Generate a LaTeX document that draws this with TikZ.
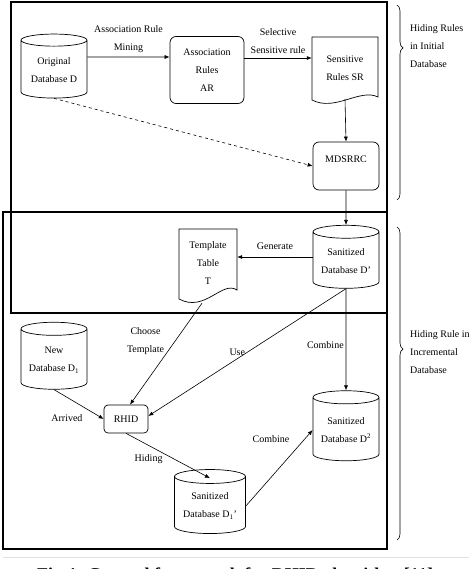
\documentclass[tikz,border=0pt]{standalone}
\usepackage{fontspec}
\setmainfont{Liberation Serif}
\usepackage{tikz}
\usetikzlibrary{arrows.meta,shapes.geometric,decorations.pathreplacing}
\newcommand{\diafont}{\fontsize{10}{18}\selectfont}
\tikzset{
  db/.style={cylinder, shape border rotate=90, aspect=0.25, draw, line width=0.7pt, align=center, minimum width=66pt, minimum height=64pt, inner sep=1pt, font=\diafont},
  proc/.style={rounded corners=6pt, draw, line width=0.7pt, align=center, inner sep=1pt, font=\diafont},
  doc/.style={align=center, inner sep=0pt, font=\diafont},
  docline/.style={line width=0.7pt},
  lbl/.style={align=center, inner sep=1pt, font=\diafont},
  arrow/.style={-{Latex[length=5pt,width=4pt]}, line width=0.6pt},
  frame/.style={line width=2pt},
  bracket/.style={decorate, line width=0.6pt}
}

\begin{document}
\begin{tikzpicture}[x=1pt, y=-1pt]
  \useasboundingbox (0,0) rectangle (469,569);
  \clip (0,0) rectangle (469,569);

  % the two frames
  \draw[frame] (11,2) rectangle (387,313);
  \draw[frame] (3,212) rectangle (387,549);

  % hiding rules in initial database
  \node[db] (od) at (54,70) {Original\\Database D};
  \node[proc, minimum width=74pt, minimum height=67pt] (ar) at (207,70) {Association\\Rules\\AR};
  \draw[docline] (312,37) -- (378,37) -- (378,97) .. controls (360,88) and (335,112) .. (312,100) -- cycle;
  \node[doc, minimum width=66pt, minimum height=62pt] (sr) at (345,68) {Sensitive\\Rules SR};
  \node[proc, minimum width=66pt, minimum height=48pt, text depth=14pt] (mds) at (346,166) {MDSRRC};

  % hiding rule in incremental database
  \node[db, minimum height=63pt] (sd) at (346,261) {Sanitized\\Database D'};
  \draw[docline] (179,229) -- (237,229) -- (237,290) .. controls (222,280) and (205,313) .. (179,299) -- cycle;
  \node[doc, minimum width=58pt, minimum height=68pt] (tt) at (208,263) {Template\\Table\\T};
  \node[db, minimum height=67pt] (nd) at (54,360) {New\\Database D\textsubscript{1}};
  \node[proc, minimum width=44pt, minimum height=28pt, rounded corners=4pt] (rh) at (126,419) {RHID};
  \node[db, minimum height=70pt] (sd2) at (346,430) {Sanitized\\Database D\textsuperscript{2}};
  \node[db, minimum width=71pt] (sd1) at (210,506) {Sanitized\\Database D\textsubscript{1}'};

  % connectors
  \draw[arrow] ([yshift=13pt]od.east) -- ([yshift=13pt]ar.west)
    node[lbl, midway, above=3pt] {Association Rule\\Mining};
  \draw[arrow] ([yshift=12pt]ar.east) -- ([yshift=12pt]ar.east -| sr.west)
    node[lbl, midway, above=3pt] {Selective\\Sensitive rule};
  \draw[arrow] (sr.south) -- (mds.north);
  \draw[arrow, dashed] (od.south) -- (mds.west);
  \draw[arrow] (mds.south) -- (sd.north);
  \draw[arrow] ([yshift=4pt]sd.west) -- ([yshift=4pt]sd.west -| tt.east)
    node[lbl, midway, above=6pt] {Generate};
  \draw[arrow] ([xshift=-6pt,yshift=-6pt]tt.south) -- ([xshift=4pt]rh.north)
    node[lbl, pos=0.37, left=10pt] {Choose\\Template};
  \draw[arrow] (sd.south) -- ([yshift=3pt]rh.east)
    node[lbl, pos=0.55, above=2pt] {Use};
  \draw[arrow] (sd.south) -- (sd2.north)
    node[lbl, pos=0.55, left=1pt] {Combine};
  \draw[arrow] (nd.south) -- (rh.west)
    node[lbl, pos=0.6, anchor=north east, yshift=-6pt] {Arrived};
  \draw[arrow] (rh.south) -- ([yshift=-9pt]sd1.north)
    node[lbl, pos=0.45, below left=0pt] {Hiding};
  \draw[arrow] (sd1.east) -- (sd2.west)
    node[lbl, pos=0.88, left=14pt] {Combine};

  % braces and their notes
  \draw[bracket, decoration={brace, amplitude=6pt, aspect=0.22}] (397,5) -- (397,200);
  \node[lbl, align=left, anchor=north west] (initnote) at (409,23) {Hiding Rules\\in Initial\\Database};
  \draw[bracket, decoration={brace, amplitude=6pt, aspect=0.39}] (397,227) -- (397,540);
  \node[lbl, align=left, anchor=north west] (incnote) at (409,329) {Hiding Rule in\\Incremental\\Database};

  % caption, cut by the page edge
  \draw[black!12, line width=1pt] (3,557) -- (469,557);
  \node[font=\fontsize{18}{20}\selectfont\bfseries, anchor=base, inner sep=0pt] (caption) at (235,580) {Fig 4: General framework for RHID algorithm [11]};
\end{tikzpicture}
\end{document}
